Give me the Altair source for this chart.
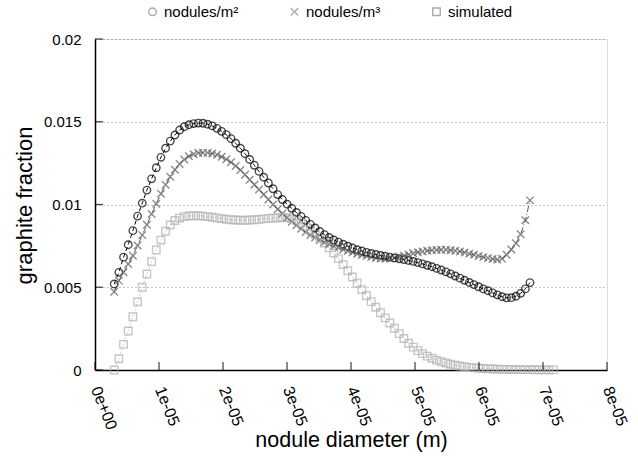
import altair as alt
import pandas as pd

# nodule diameter sample positions, in micrometres
diam_um = [3.00, 3.73, 4.46, 5.19, 5.92, 6.65, 7.38, 8.11, 8.84, 9.57,
           10.30, 11.03, 11.76, 12.49, 13.22, 13.95, 14.68, 15.41, 16.14, 16.87,
           17.60, 18.33, 19.06, 19.79, 20.52, 21.25, 21.98, 22.71, 23.44, 24.17,
           24.90, 25.63, 26.36, 27.09, 27.82, 28.55, 29.28, 30.01, 30.74, 31.47,
           32.20, 32.93, 33.66, 34.39, 35.12, 35.85, 36.58, 37.31, 38.04, 38.77,
           39.50, 40.23, 40.96, 41.69, 42.42, 43.15, 43.88, 44.61, 45.34, 46.07,
           46.80, 47.53, 48.26, 48.99, 49.72, 50.45, 51.18, 51.91, 52.64, 53.37,
           54.10, 54.83, 55.56, 56.29, 57.02, 57.75, 58.48, 59.21, 59.94, 60.67,
           61.40, 62.13, 62.86, 63.59, 64.32, 65.05, 65.78, 66.51, 67.24, 67.97,
           68.70, 69.43, 70.16, 70.89, 71.62]

# graphite fraction, nodules/m^2 (first 90 diameters)
frac_m2 = [0.00520, 0.00590, 0.00682, 0.00757, 0.00842, 0.00930, 0.01008, 0.01087, 0.01155, 0.01222,
           0.01285, 0.01340, 0.01383, 0.01420, 0.01450, 0.01470, 0.01482, 0.01489, 0.01492, 0.01491,
           0.01485, 0.01475, 0.01460, 0.01442, 0.01422, 0.01398, 0.01370, 0.01340, 0.01307, 0.01272,
           0.01237, 0.01200, 0.01165, 0.01130, 0.01095, 0.01060, 0.01030, 0.01002, 0.00977, 0.00952,
           0.00928, 0.00904, 0.00880, 0.00858, 0.00837, 0.00818, 0.00801, 0.00786, 0.00773, 0.00760,
           0.00748, 0.00737, 0.00727, 0.00719, 0.00711, 0.00704, 0.00698, 0.00692, 0.00687, 0.00682,
           0.00677, 0.00672, 0.00667, 0.00662, 0.00656, 0.00649, 0.00641, 0.00633, 0.00624, 0.00614,
           0.00604, 0.00593, 0.00581, 0.00568, 0.00555, 0.00542, 0.00529, 0.00516, 0.00503, 0.00490,
           0.00479, 0.00466, 0.00454, 0.00443, 0.00436, 0.00437, 0.00446, 0.00463, 0.00490, 0.00528]

# graphite fraction, nodules/m^3 (first 90 diameters)
frac_m3 = [0.00473, 0.00540, 0.00590, 0.00640, 0.00690, 0.00752, 0.00815, 0.00878, 0.00942, 0.01005,
           0.01065, 0.01120, 0.01168, 0.01210, 0.01245, 0.01272, 0.01292, 0.01304, 0.01311, 0.01313,
           0.01312, 0.01308, 0.01300, 0.01288, 0.01273, 0.01255, 0.01233, 0.01208, 0.01180, 0.01150,
           0.01120, 0.01090, 0.01060, 0.01030, 0.01000, 0.00972, 0.00945, 0.00920, 0.00896, 0.00874,
           0.00853, 0.00834, 0.00816, 0.00800, 0.00785, 0.00772, 0.00760, 0.00749, 0.00738, 0.00728,
           0.00719, 0.00710, 0.00702, 0.00695, 0.00688, 0.00682, 0.00677, 0.00674, 0.00673, 0.00674,
           0.00678, 0.00684, 0.00691, 0.00698, 0.00705, 0.00711, 0.00716, 0.00720, 0.00723, 0.00725,
           0.00726, 0.00726, 0.00724, 0.00721, 0.00716, 0.00710, 0.00703, 0.00696, 0.00689, 0.00682,
           0.00676, 0.00671, 0.00668, 0.00672, 0.00696, 0.00728, 0.00766, 0.00820, 0.00905, 0.01025]

# graphite fraction, simulated (all 95 diameters)
frac_sim = [0.00000, 0.00068, 0.00155, 0.00236, 0.00322, 0.00412, 0.00500, 0.00580, 0.00655, 0.00725,
            0.00785, 0.00838, 0.00876, 0.00903, 0.00918, 0.00927, 0.00931, 0.00932, 0.00932, 0.00930,
            0.00927, 0.00923, 0.00919, 0.00915, 0.00911, 0.00908, 0.00906, 0.00905, 0.00905, 0.00906,
            0.00908, 0.00910, 0.00913, 0.00916, 0.00918, 0.00920, 0.00921, 0.00920, 0.00915, 0.00904,
            0.00888, 0.00868, 0.00845, 0.00820, 0.00794, 0.00767, 0.00738, 0.00707, 0.00673, 0.00637,
            0.00600, 0.00562, 0.00524, 0.00486, 0.00449, 0.00413, 0.00379, 0.00346, 0.00315, 0.00284,
            0.00252, 0.00220, 0.00190, 0.00162, 0.00138, 0.00117, 0.00099, 0.00084, 0.00071, 0.00060,
            0.00050, 0.00042, 0.00035, 0.00029, 0.00024, 0.00020, 0.00016, 0.00013, 0.00011, 0.00009,
            0.00007, 0.00006, 0.00005, 0.00004, 0.00003, 0.00003, 0.00002, 0.00002, 0.00002, 0.00002,
            0.00001, 0.00001, 0.00001, 0.00001, 0.00001]

series_names = ["nodules/m²", "nodules/m³", "simulated"]
series_colors = ["#000000", "#5c5c5c", "#b0b0b0"]
series_dash = [[4, 3], [6, 2, 1, 2], [1, 2]]
x_shape = "M-1,-1L1,1M-1,1L1,-1"
series_shapes = ["circle", x_shape, "square"]

x_ticks = [0, 1e-5, 2e-5, 3e-5, 4e-5, 5e-5, 6e-5, 7e-5, 8e-5]
y_ticks = [0, 0.005, 0.01, 0.015, 0.02]

rows = []
for name, ys in zip(series_names, [frac_m2, frac_m3, frac_sim]):
    for i, v in enumerate(ys):
        rows.append({"series": name, "s2": name, "d": diam_um[i] * 1e-6, "f": v, "i": i})
df = pd.DataFrame(rows)

FONT = "Liberation Sans"
xscale = alt.Scale(domain=[0, 8e-5], nice=False, zero=False)
yscale = alt.Scale(domain=[0, 0.02], nice=False)

x_axis = alt.Axis(
    values=x_ticks,
    labelExpr="datum.value == 0 ? '0e+00' : format(datum.value * 1e5, '.0f') + 'e-05'",
    labelAngle=68, labelAlign="left", labelBaseline="middle", labelPadding=17,
    labelFontSize=16, labelColor="#000", tickSize=0,
    domainColor="#000", domainWidth=1.5, grid=False,
    title="nodule diameter (m)", titleFontSize=21.5, titleFontWeight="normal",
    titleColor="#000", titleY=76, titleBaseline="alphabetic",
)
y_axis = alt.Axis(
    values=y_ticks, format=".3~f",
    labelFontSize=15, labelColor="#000", labelPadding=14, tickSize=0,
    domainColor="#000", domainWidth=1.5,
    grid=True, gridDash=[1, 3], gridColor="#8a8a8a", gridWidth=1,
    title="graphite fraction", titleFontSize=22, titleFontWeight="normal",
    titleColor="#000", titleX=-64, titleY=166, titleAlign="center",
    titleBaseline="alphabetic",
)

base = alt.Chart(df)

lines = base.mark_line(strokeWidth=1).encode(
    x=alt.X("d:Q", scale=xscale, axis=x_axis),
    y=alt.Y("f:Q", scale=yscale, axis=y_axis),
    stroke=alt.Stroke("series:N", scale=alt.Scale(domain=series_names, range=series_colors), legend=None),
    strokeDash=alt.StrokeDash("series:N", scale=alt.Scale(domain=series_names, range=series_dash), legend=None),
    detail="series:N",
    order="i:Q",
)

points = base.mark_point(filled=False, strokeWidth=1.4, size=56).encode(
    x=alt.X("d:Q", scale=xscale),
    y=alt.Y("f:Q", scale=yscale),
    color=alt.Color("series:N", scale=alt.Scale(domain=series_names, range=series_colors),
                    legend=alt.Legend(orient="top", direction="horizontal", title=None)),
    shape=alt.Shape("s2:N", scale=alt.Scale(domain=series_names, range=series_shapes),
                    legend=alt.Legend(orient="none", legendX=50, legendY=-35,
                                      direction="horizontal", title=None,
                                      columnPadding=48)),
    order="i:Q",
)

xt = alt.Chart(pd.DataFrame({"v": x_ticks})).mark_tick(
    orient="vertical", size=8, thickness=1.3, color="#000", yOffset=-4
).encode(x=alt.X("v:Q", scale=xscale), y=alt.datum(0))

yt = alt.Chart(pd.DataFrame({"v": y_ticks})).mark_tick(
    orient="horizontal", size=8, thickness=1.3, color="#000", xOffset=4
).encode(y=alt.Y("v:Q", scale=yscale), x=alt.datum(0))

chart = alt.layer(lines, points, xt, yt).properties(
    width=512, height=331,
    autosize=alt.AutoSizeParams(type="none"),
    padding={"left": 95, "top": 39, "right": 31, "bottom": 97},
    background="white",
).configure_view(stroke=None).configure(font=FONT).configure_legend(
    labelFont=FONT, labelFontSize=15, labelColor="#000",
    symbolSize=56, symbolStrokeWidth=1.4, padding=0,
)

chart.save("out.html", embed_options={"renderer": "svg", "actions": False})
